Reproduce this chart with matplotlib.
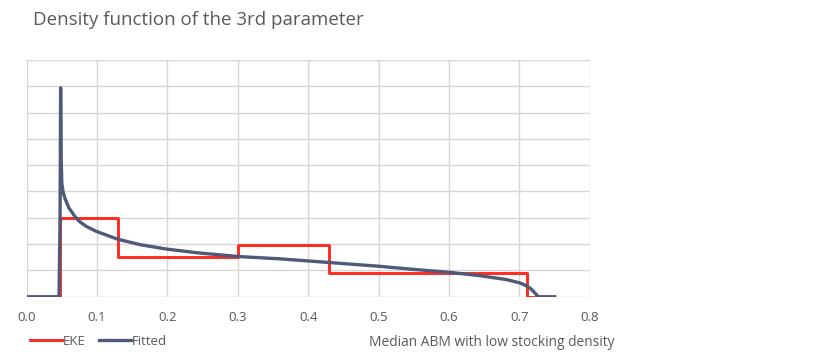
import numpy as np
import matplotlib.pyplot as plt

plt.rcParams['font.family'] = ['Open Sans', 'DejaVu Sans']

# EKE step density (quartile bins)
eke_x = [0.0, 0.048, 0.048, 0.13, 0.13, 0.30, 0.30, 0.43, 0.43, 0.71, 0.71, 0.725]
eke_y = [0.0, 0.0, 3.0, 3.0, 1.5, 1.5, 1.95, 1.95, 0.91, 0.91, 0.0, 0.0]

# fitted density
fit_x = [0.0, 0.045, 0.046, 0.0475, 0.0483, 0.0488, 0.0493, 0.0500, 0.052, 0.055,
         0.060, 0.0686, 0.075, 0.085, 0.0994, 0.129, 0.161, 0.199, 0.246, 0.30,
         0.36, 0.40, 0.43, 0.50, 0.549, 0.60, 0.644, 0.682, 0.70, 0.708,
         0.716, 0.722, 0.727, 0.75]
fit_y = [0.0, 0.0, 0.0, 3.0, 7.94, 6.2, 5.0, 4.3, 3.95, 3.7,
         3.38, 3.05, 2.86, 2.67, 2.48, 2.19, 1.98, 1.81, 1.66, 1.53,
         1.44, 1.36, 1.30, 1.16, 1.04, 0.93, 0.80, 0.65, 0.53, 0.44,
         0.31, 0.14, 0.0, 0.0]

xticks = [0.0, 0.1, 0.2, 0.3, 0.4, 0.5, 0.6, 0.7, 0.8]

text_col = '#595959'
grid_col = '#D9D5D3'

fig = plt.figure(figsize=(8.32, 3.61), dpi=100)
ax = fig.add_axes([0.032, 0.178, 0.677, 0.656])

ax.plot(eke_x, eke_y, color='#FF2A1F', lw=2.1, label='EKE', zorder=3)
ax.plot(fit_x, fit_y, color='#4F5A7A', lw=2.4, label='Fitted', zorder=4)

ax.set_xlim(0, 0.8)
ax.set_ylim(0, 9)
ax.set_xticks(xticks)
ax.set_xticklabels(['%.1f' % t for t in xticks])
ax.set_yticks(np.arange(0, 10, 1))
ax.set_yticklabels([])
ax.grid(True, color=grid_col, lw=1)
ax.set_axisbelow(True)
for s in ax.spines.values():
    s.set_visible(False)
ax.tick_params(length=0, labelsize=9.5, labelcolor=text_col, pad=10)

fig.text(0.04, 0.945, 'Density function of the 3rd parameter', fontsize=13.5,
         color=text_col, va='center', ha='left')
fig.text(0.444, 0.05, 'Median ABM with low stocking density', fontsize=9.9,
         color=text_col, va='center', ha='left')

leg = fig.legend(loc='center left', bbox_to_anchor=(0.022, 0.054), ncol=2,
                 frameon=False, fontsize=9.5, handlelength=2.4, handletextpad=0.1,
                 columnspacing=1.0)
for t in leg.get_texts():
    t.set_color(text_col)

fig.savefig('out.png', dpi=100)
